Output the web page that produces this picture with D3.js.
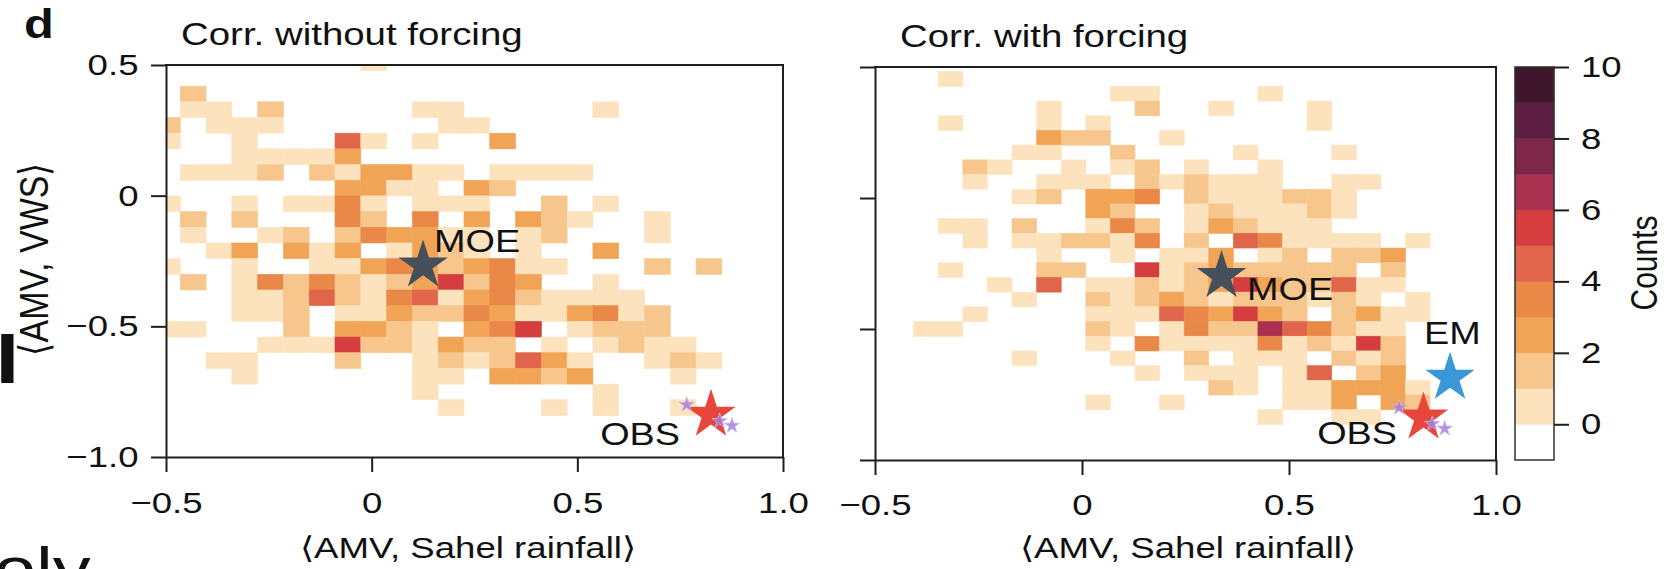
<!DOCTYPE html>
<html>
<head>
<meta charset="utf-8">
<script src="https://cdn.jsdelivr.net/npm/d3@7"></script>
<style>
  body { margin: 0; background: #fff; }
  svg { display: block; font-family: "Liberation Sans", Arial, sans-serif; }
</style>
</head>
<body>
<svg id="chart" width="1664" height="569"></svg>
<script>
// ---- data ----
var xTicks = [-0.5, 0, 0.5, 1.0];
var yTicks = [-1.0, -0.5, 0, 0.5];
var countTicks = [0, 2, 4, 6, 8, 10];
// colour for a cell holding n counts (index n); band [n-1, n] on the colour bar
var countColors = ["#ffffff", "#fde3bd", "#f7c68c", "#f1a456", "#ea8848", "#e0654a",
                   "#d63d3e", "#a9304f", "#7f2748", "#5d1e42", "#40162c"];

// histogram bins (data units): first column left edge, width, first row top edge, height
var noForcingBinX = [-0.528, 0.0627];
var noForcingBinY = [0.539, 0.06];
var forcingBinX = [-0.5254, 0.0594];
var forcingBinY = [0.5383, 0.0561];

// counts per bin, one row per string (top row first), one digit per column
var noForcingCounts = [
  "0000000010000000000000000",
  "0000000000000000000000000",
  "0200000000000000000000000",
  "0110200000110000010000000",
  "2011100000011000000000000",
  "1001000510100300000000000",
  "0001111300000000000000000",
  "0111202133110111100000000",
  "0000000331103200000000000",
  "1001011410111002010000000",
  "0202000420403032100100000",
  "0100120243311012000100000",
  "0013031301321010030000000",
  "1001001134323411000202000",
  "0201424212362430010000000",
  "0001125214513421111000000",
  "0001120113224311341200000",
  "1100020332103460122200000",
  "0000111622132201012110000",
  "0011000200121253100121000",
  "0001000000110332300010000",
  "0000000000100000010000000",
  "0000000000010001010010000"
];
var forcingCounts = [
  "00000000000000000000000000",
  "00010000000000000000000000",
  "00000000001100001000000000",
  "00000001000200100010000000",
  "00010001010000000010000000",
  "00000003220010000000000000",
  "00000011002000010001000000",
  "00002100101201001000000000",
  "00001001110212111001100000",
  "00000012033402111221000000",
  "00000000032001211121000000",
  "00011020014201321110000000",
  "00001011221402054111101000",
  "00000001001011301202230000",
  "00010002200612322222020000",
  "00000105011212363225110000",
  "00000010021232122212101000",
  "00001000011154363202311000",
  "00110000021014227542110000",
  "00000000010411114121620000",
  "00000010001002011102120000",
  "00000000000101110150230000",
  "00000000000000210113331000",
  "00000000010010000113032000",
  "00000000000000001001100000"
];

// marked points [corr(AMV, Sahel rainfall), corr(AMV, VWS)]
var moeNoForcing = [0.125, -0.267];
var moeForcing = [0.337, -0.298];
var obsPoint = [0.825, -0.838];
var emPoint = [0.889, -0.686];
var obsMembers = [[0.766, -0.800], [0.846, -0.862], [0.876, -0.880]];

// ---- drawing ----
var SX = 1.22;   // the figure's lettering is horizontally wide
var svg = d3.select("#chart");

function stretch(sel, rot) {
  sel.each(function() {
    var t = d3.select(this);
    var x = +t.attr("x") || 0, y = +t.attr("y") || 0;
    t.attr("x", null).attr("y", null)
      .attr("transform", "translate(" + x + "," + y + ") scale(" + SX + ",1)" + (rot ? " rotate(-90)" : ""));
  });
}

function addText(g, str, x, y, opts) {
  opts = opts || {};
  var t = g.append("text")
    .attr("x", x).attr("y", y)
    .attr("font-size", opts.size || 30)
    .attr("font-weight", opts.weight || null)
    .attr("text-anchor", opts.anchor || "start")
    .attr("fill", "#111")
    .text(str);
  stretch(t, opts.rot);
  return t;
}

var tickFmt = function(d) { return d === 0 ? "0" : d3.format(".1f")(d); };

function star(g, pt, x, y, r, fill, extra) {
  var s = g.append("path")
    .attr("d", d3.symbol().type(d3.symbolStar).size(r * r / 0.8908)())
    .attr("transform", "translate(" + x(pt[0]) + "," + y(pt[1]) + ")")
    .attr("fill", fill);
  if (extra) extra(s);
  return s;
}

function drawPanel(p, idx) {
  var g = svg.append("g");
  var x = d3.scaleLinear().domain([-0.5, 1.0]).range([p.left, p.right]);
  var y = d3.scaleLinear().domain([-1.0, 0.5]).range([p.bottom, p.top]);

  svg.append("clipPath").attr("id", "clip" + idx)
    .append("rect")
    .attr("x", p.left).attr("y", p.top)
    .attr("width", p.right - p.left).attr("height", p.bottom - p.top);

  var cells = [];
  p.counts.forEach(function(row, r) {
    row.split("").forEach(function(ch, c) {
      if (+ch > 0) cells.push({ r: r, c: c, v: +ch });
    });
  });

  var bx = p.binX, by = p.binY;
  g.append("g").attr("clip-path", "url(#clip" + idx + ")")
    .selectAll("rect").data(cells).join("rect")
    .attr("x", function(d) { return x(bx[0] + d.c * bx[1]); })
    .attr("width", function(d) { return x(bx[0] + (d.c + 1) * bx[1]) - x(bx[0] + d.c * bx[1]); })
    .attr("y", function(d) { return y(by[0] - d.r * by[1]); })
    .attr("height", function(d) { return y(by[0] - (d.r + 1) * by[1]) - y(by[0] - d.r * by[1]); })
    .attr("fill", function(d) { return countColors[d.v]; })
    .attr("stroke", function(d) { return countColors[d.v]; })
    .attr("stroke-width", 0.6);

  // axes
  var yAxis = g.append("g")
    .attr("transform", "translate(" + p.left + ",0)")
    .call(d3.axisLeft(y).tickValues(yTicks).tickSize(15).tickSizeOuter(0)
      .tickFormat(p.yLabels ? tickFmt : ""));
  var xAxis = g.append("g")
    .attr("transform", "translate(0," + p.bottom + ")")
    .call(d3.axisBottom(x).tickValues(xTicks).tickSize(15).tickSizeOuter(0).tickFormat(tickFmt));

  [yAxis, xAxis].forEach(function(a) {
    a.attr("font-size", 30).attr("font-family", null).attr("color", "#1e1e1e");
    a.selectAll("line, path").attr("stroke-width", 2);
    a.selectAll("text").attr("fill", "#111");
  });
  yAxis.selectAll("text").attr("x", -27.5);
  stretch(yAxis.selectAll("text"));
  xAxis.selectAll("text").attr("dy", null).attr("y", p.tickBase);
  stretch(xAxis.selectAll("text"));

  // top and right spines
  g.append("line").attr("x1", p.left - 1).attr("x2", p.right + 1).attr("y1", p.top).attr("y2", p.top)
    .attr("stroke", "#1e1e1e").attr("stroke-width", 2);
  g.append("line").attr("x1", p.right).attr("x2", p.right).attr("y1", p.top).attr("y2", p.bottom)
    .attr("stroke", "#1e1e1e").attr("stroke-width", 2);

  // title and axis label
  addText(svg, p.title, p.titleX, p.titleY, { size: 31.5 });
  addText(svg, "\u27E8AMV, Sahel rainfall\u27E9", p.xLabelX, 558, { anchor: "middle" });

  // markers
  star(g, p.moe, x, y, 26, "#46505b");
  addText(g, "MOE", p.moeLabel[0], p.moeLabel[1], { size: 31 });
  if (p.em) {
    star(g, p.em, x, y, 26, "#3a98d8");
    addText(g, "EM", p.emLabel[0], p.emLabel[1], { size: 31 });
  }
  star(g, obsPoint, x, y, 26, "#e6473a");
  obsMembers.forEach(function(m) {
    star(g, m, x, y, 8, "#a77fdb", function(s) {
      s.attr("fill-opacity", 0.85).attr("stroke", "#cdb6ef").attr("stroke-width", 0.8);
    });
  });
  addText(g, "OBS", p.obsLabel[0], p.obsLabel[1], { size: 31, anchor: "end" });
}

drawPanel({
  left: 166, right: 783, top: 65, bottom: 457, tickBase: 56,
  counts: noForcingCounts, binX: noForcingBinX, binY: noForcingBinY,
  yLabels: true, title: "Corr. without forcing", titleX: 181, titleY: 45, xLabelX: 468,
  moe: moeNoForcing, moeLabel: [434, 252], obsLabel: [680, 445]
}, 0);

drawPanel({
  left: 875, right: 1496, top: 67, bottom: 460, tickBase: 55,
  counts: forcingCounts, binX: forcingBinX, binY: forcingBinY,
  yLabels: false, title: "Corr. with forcing", titleX: 900, titleY: 47, xLabelX: 1188,
  moe: moeForcing, moeLabel: [1247, 300], em: emPoint, emLabel: [1424, 343.5],
  obsLabel: [1397, 444]
}, 1);

// y label shared by both panels
addText(svg, "\u27E8AMV, VWS\u27E9", 48, 259, { anchor: "middle", rot: true, size: 34 });

// panel letter
addText(svg, "d", 24, 38, { size: 40, weight: "bold" });

// colour bar
var cb = { left: 1515, right: 1554, top: 67, bottom: 460 };
var cScale = d3.scaleLinear().domain([-1, 10]).range([cb.bottom, cb.top]);
var cbG = svg.append("g");
cbG.selectAll("rect.band").data(d3.range(-1, 10)).join("rect")
  .attr("class", "band")
  .attr("x", cb.left).attr("width", cb.right - cb.left)
  .attr("y", function(d) { return cScale(d + 1); })
  .attr("height", function(d) { return cScale(d) - cScale(d + 1); })
  .attr("fill", function(d) { return countColors[d + 1]; })
  .attr("stroke", function(d) { return countColors[d + 1]; })
  .attr("stroke-width", 0.5);
cbG.append("rect")
  .attr("x", cb.left).attr("y", cb.top)
  .attr("width", cb.right - cb.left).attr("height", cb.bottom - cb.top)
  .attr("fill", "none").attr("stroke", "#333").attr("stroke-width", 1.5);
var cbAxis = cbG.append("g")
  .attr("transform", "translate(" + cb.right + ",0)")
  .call(d3.axisRight(cScale).tickValues(countTicks).tickSize(15).tickSizeOuter(0).tickFormat(d3.format("d")));
cbAxis.attr("font-size", 30).attr("font-family", null).attr("color", "#1e1e1e");
cbAxis.select(".domain").remove();
cbAxis.selectAll("line").attr("stroke-width", 2);
cbAxis.selectAll("text").attr("fill", "#111").attr("x", 27);
stretch(cbAxis.selectAll("text"));
addText(svg, "Counts", 1657, 263, { anchor: "middle", rot: true });

// fragments of neighbouring text cut by the crop
addText(svg, "I", -4.5, 383, { size: 70, weight: "bold" });
addText(svg, "oly", -6, 590, { size: 62 });
</script>
</body>
</html>
